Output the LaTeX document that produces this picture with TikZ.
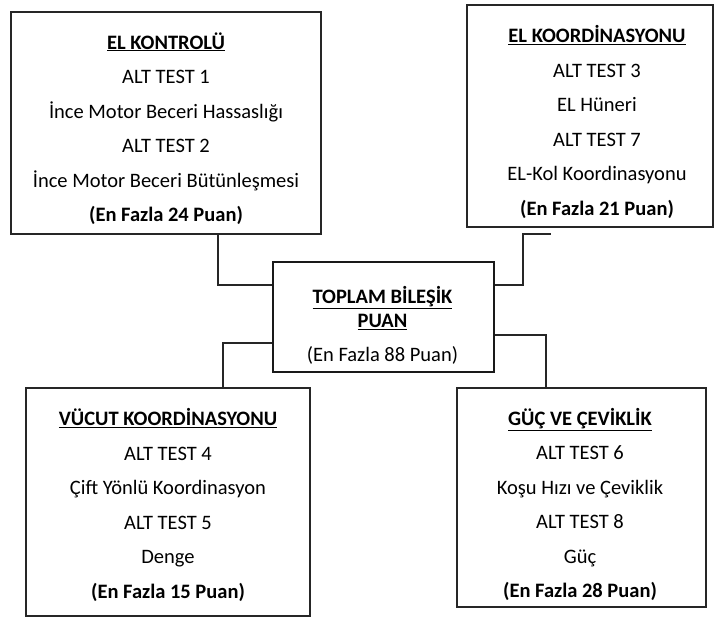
\documentclass[tikz,border=0pt]{standalone}
\usepackage{fontspec}
\setmainfont{Carlito}
\usetikzlibrary{positioning}
\begin{document}
\begin{tikzpicture}[x=1pt,y=-1pt,
  box/.style={draw=black!85, line width=1.3pt, rectangle, inner sep=0pt},
  mainbox/.style={draw=black!90, line width=2.6pt, rectangle, inner sep=0pt},
  txt/.style={align=center, inner sep=0pt, font=\fontsize{20.5}{34.5}\selectfont, text=black},
  conn/.style={draw=black!85, line width=1.2pt}]
\useasboundingbox (0,0) rectangle (715,617);
% boxes
\node[box, minimum width=310pt, minimum height=222pt] (b1) at (166,123) {};
\node[box, minimum width=246pt, minimum height=222pt] (b2) at (590,116) {};
\node[mainbox, minimum width=221pt, minimum height=110pt] (c) at (383.5,317) {};
\node[box, minimum width=284pt, minimum height=228pt] (b3) at (168,502) {};
\node[box, minimum width=249pt, minimum height=219pt] (b4) at (581.5,497.5) {};
% texts
\node[txt] (t1) at (166,128.5) {\underline{\textbf{EL KONTROLÜ}}\\ALT TEST 1\\İnce Motor Beceri Hassaslığı\\ALT TEST 2\\İnce Motor Beceri Bütünleşmesi\\\textbf{(En Fazla 24 Puan)}};
\node[txt] (t2) at (597,122) {\underline{\textbf{EL KOORDİNASYONU}}\\ALT TEST 3\\EL Hüneri\\ALT TEST 7\\EL-Kol Koordinasyonu\\\textbf{(En Fazla 21 Puan)}};
\node[txt] (tc) at (382.5,325.5) {\underline{\textbf{TOPLAM BİLEŞİK}}\\[-10.5pt]\underline{\textbf{PUAN}}\\(En Fazla 88 Puan)};
\node[txt] (t3) at (168,505) {\underline{\textbf{VÜCUT KOORDİNASYONU}}\\ALT TEST 4\\Çift Yönlü Koordinasyon\\ALT TEST 5\\Denge\\\textbf{(En Fazla 15 Puan)}};
\node[txt] (t4) at (580,504.5) {\underline{\textbf{GÜÇ VE ÇEVİKLİK}}\\ALT TEST 6\\Koşu Hızı ve Çeviklik\\ALT TEST 8\\Güç\\\textbf{(En Fazla 28 Puan)}};
% connector helper coordinates
\coordinate (x1) at (218,0);
\coordinate (k2) at (523,234);
\coordinate (s2) at (551,234);
\coordinate (x3) at (223,0);
\coordinate (x4) at (546,0);
% connectors
\draw[conn] (b1.south -| x1) |- ([yshift=32pt]c.west);
\draw[conn] ([yshift=32pt]c.east) -| (k2) -- (s2);
\draw[conn] ([yshift=-26pt]c.west) -| (x3 |- b3.north);
\draw[conn] ([yshift=-18pt]c.east) -| (x4 |- b4.north);
\end{tikzpicture}
\end{document}
